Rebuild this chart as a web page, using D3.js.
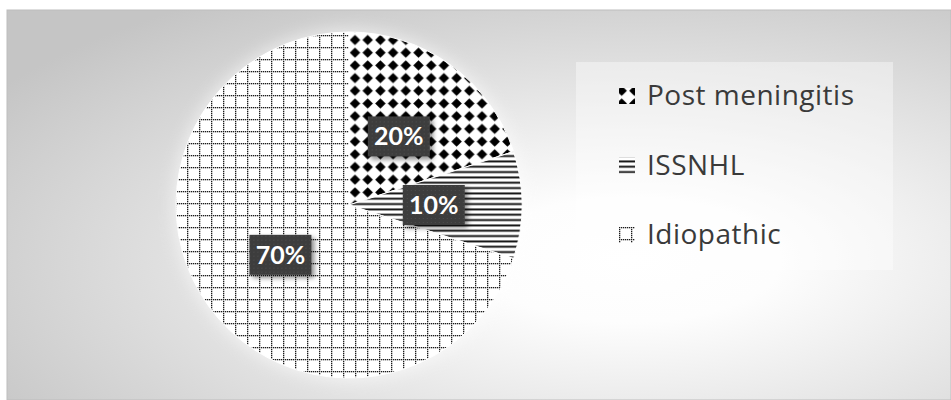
<!DOCTYPE html>
<html>
<head>
<meta charset="utf-8">
<script src="https://cdn.jsdelivr.net/npm/d3@7/dist/d3.min.js"></script>
<style>
  html, body { margin: 0; padding: 0; background: #ffffff; }
  svg { display: block; }
</style>
</head>
<body>
<svg id="chart" width="951" height="400"></svg>
<script>
// Causes of hearing loss — share of cases
const categories = ["Post meningitis", "ISSNHL", "Idiopathic"];
const values = [20, 10, 70];
const patternKeys = ["diamond", "lines", "dotgrid"];

const W = 951, H = 400;
const cx = 349, cy = 205, r = 173;

const svg = d3.select("#chart");
const defs = svg.append("defs");

// Background: soft radial fill, bright toward the right-centre
const bg = defs.append("radialGradient")
  .attr("id", "bg-grad")
  .attr("cx", 0.66).attr("cy", 0.64).attr("r", 0.8)
  .attr("fx", 0.66).attr("fy", 0.64);
bg.append("stop").attr("offset", 0).attr("stop-color", "#ffffff");
bg.append("stop").attr("offset", 0.2).attr("stop-color", "#fdfdfd");
bg.append("stop").attr("offset", 1).attr("stop-color", "#c5c5c5");

// Fill patterns, anchored to page coordinates; (ox, oy) is the origin
// of the user space of the element that uses them.
function addPatterns(suffix, ox, oy) {
  const shift = `translate(${-ox},${-oy})`;

  const pd = defs.append("pattern").attr("id", "diamond" + suffix)
    .attr("patternUnits", "userSpaceOnUse")
    .attr("width", 12.7).attr("height", 12.7)
    .attr("x", 355 - 6.35).attr("y", 40 - 6.35)
    .attr("patternTransform", shift);
  pd.append("rect").attr("width", 12.7).attr("height", 12.7).attr("fill", "#fff");
  pd.append("path").attr("d", "M6.35,1.1 L11.6,6.35 L6.35,11.6 L1.1,6.35 Z").attr("fill", "#000");

  const pl = defs.append("pattern").attr("id", "lines" + suffix)
    .attr("patternUnits", "userSpaceOnUse")
    .attr("width", 16).attr("height", 16).attr("y", 0.5)
    .attr("patternTransform", shift);
  pl.append("rect").attr("width", 16).attr("height", 16).attr("fill", "#fff");
  [0, 16 / 3, 32 / 3].forEach(y =>
    pl.append("rect").attr("y", y).attr("width", 16).attr("height", 1.8).attr("fill", "#000"));

  const cell = 12;
  const pg = defs.append("pattern").attr("id", "dotgrid" + suffix)
    .attr("patternUnits", "userSpaceOnUse")
    .attr("width", cell).attr("height", cell)
    .attr("x", 211).attr("y", 227)
    .attr("patternTransform", shift);
  pg.append("rect").attr("width", cell).attr("height", cell).attr("fill", "#fff");
  for (let i = 0; i < cell; i += 2) {
    pg.append("rect").attr("x", i).attr("y", 0).attr("width", 1.3).attr("height", 1.3).attr("fill", "#1a1a1a");
    if (i > 0) pg.append("rect").attr("x", 0).attr("y", i).attr("width", 1.3).attr("height", 1.3).attr("fill", "#1a1a1a");
  }
}
addPatterns("-pie", cx, cy);
addPatterns("-key", 0, 0);

// Faint dot texture for the data-label boxes
const pt = defs.append("pattern").attr("id", "pat-labelbox")
  .attr("patternUnits", "userSpaceOnUse").attr("width", 4).attr("height", 4);
pt.append("rect").attr("width", 4).attr("height", 4).attr("fill", "#3e3e3e");
pt.append("rect").attr("x", 1).attr("y", 1).attr("width", 1).attr("height", 1).attr("fill", "#4b4b4b");

// Filters
const glow = defs.append("filter").attr("id", "glow")
  .attr("x", "-30%").attr("y", "-30%").attr("width", "160%").attr("height", "160%");
glow.append("feGaussianBlur").attr("stdDeviation", 8);

const shadow = defs.append("filter").attr("id", "box-shadow")
  .attr("x", "-30%").attr("y", "-30%").attr("width", "170%").attr("height", "170%");
shadow.append("feDropShadow").attr("dx", 3).attr("dy", 3).attr("stdDeviation", 2.5)
  .attr("flood-color", "#000").attr("flood-opacity", 0.45);

// Chart area
svg.append("rect")
  .attr("x", 7).attr("y", 10).attr("width", W - 7).attr("height", H - 10)
  .attr("fill", "url(#bg-grad)")
  .attr("stroke", "#bdbdbd").attr("stroke-width", 1);

// Pie
const pie = d3.pie().sort(null).value(d => d);
const arcs = pie(values);
const arc = d3.arc().innerRadius(0).outerRadius(r);
const labelArc = d3.arc().innerRadius(r * 0.49).outerRadius(r * 0.49);

const g = svg.append("g").attr("transform", `translate(${cx},${cy})`);

g.append("circle").attr("r", r + 3).attr("fill", "#ffffff")
  .attr("opacity", 0.55).attr("filter", "url(#glow)");

g.selectAll("path.slice")
  .data(arcs)
  .join("path")
  .attr("class", "slice")
  .attr("d", arc)
  .attr("fill", (d, i) => `url(#${patternKeys[i]}-pie)`)
  .attr("stroke", "#ffffff")
  .attr("stroke-width", 1);

// Data labels
const boxW = 62, boxH = 40;
const lab = g.selectAll("g.lab")
  .data(arcs)
  .join("g")
  .attr("class", "lab")
  .attr("transform", d => {
    const [x, y] = labelArc.centroid(d);
    return `translate(${x},${y})`;
  });
lab.append("rect")
  .attr("x", -boxW / 2).attr("y", -boxH / 2)
  .attr("width", boxW).attr("height", boxH)
  .attr("fill", "url(#pat-labelbox)")
  .attr("filter", "url(#box-shadow)");
lab.append("text")
  .attr("text-anchor", "middle")
  .attr("dy", "0.36em")
  .attr("fill", "#ffffff")
  .style("font-family", "Lato, 'Open Sans', sans-serif")
  .style("font-weight", 700)
  .style("font-size", "25px")
  .text(d => d.data + "%");

// Legend
const legend = svg.append("g");
legend.append("rect")
  .attr("x", 576).attr("y", 62).attr("width", 317).attr("height", 208)
  .attr("fill", "#ffffff").attr("opacity", 0.4);

const legendY = d3.scalePoint().domain(categories).range([105, 244]);
const item = legend.selectAll("g.item")
  .data(categories)
  .join("g")
  .attr("class", "item");
item.append("rect")
  .attr("x", 619).attr("y", d => legendY(d) - 17)
  .attr("width", 16).attr("height", 16)
  .attr("fill", (d, i) => `url(#${patternKeys[i]}-key)`);
item.append("text")
  .attr("x", 647).attr("y", d => legendY(d))
  .attr("fill", "#3a3a3a")
  .style("font-family", "'Open Sans', Lato, sans-serif")
  .style("font-size", "28px")
  .style("letter-spacing", "0.5px")
  .text(d => d);
</script>
</body>
</html>
